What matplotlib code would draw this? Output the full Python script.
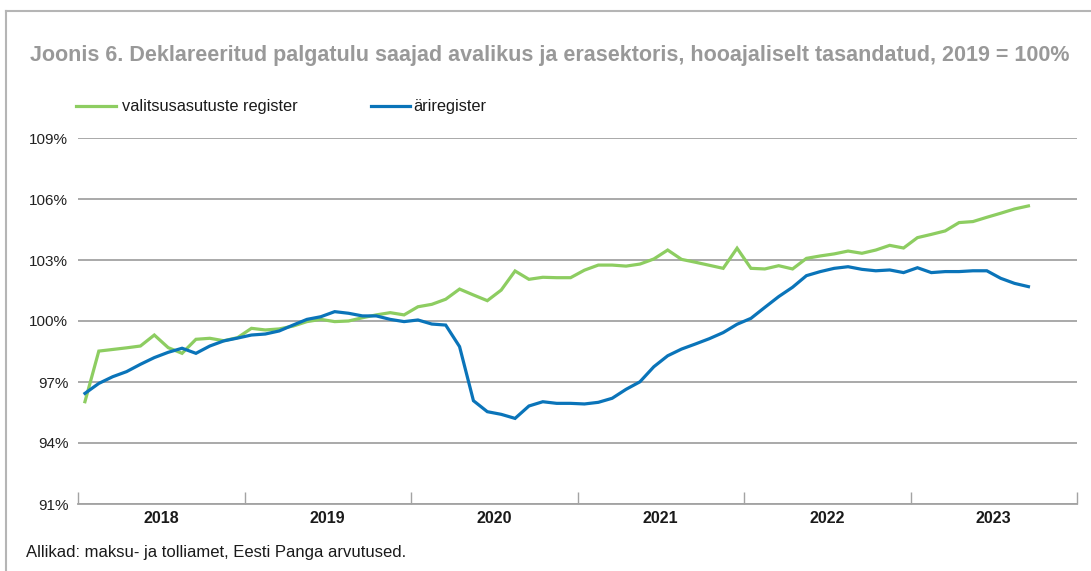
import matplotlib
matplotlib.use("Agg")
import matplotlib.pyplot as plt
from matplotlib.lines import Line2D

plt.rcParams['font.family'] = ['Liberation Sans', 'DejaVu Sans']

years = ["2018", "2019", "2020", "2021", "2022", "2023"]
y_ticks = [91, 94, 97, 100, 103, 106, 109]
y_labels = ["91%", "94%", "97%", "100%", "103%", "106%", "109%"]

# Monthly values, Jan 2018 .. Sep 2023
valitsus = [96.03, 98.52, 98.6, 98.68, 98.77, 99.31, 98.69, 98.41, 99.10, 99.15, 99.03, 99.18,
            99.64, 99.56, 99.61, 99.75, 99.97, 100.08, 99.97, 100.0, 100.16, 100.30, 100.41, 100.30,
            100.70, 100.82, 101.07, 101.57, 101.28, 101.00, 101.52, 102.46, 102.05, 102.15, 102.13, 102.13,
            102.50, 102.75, 102.75, 102.70, 102.80, 103.05, 103.49, 103.03, 102.89, 102.74, 102.59, 103.58,
            102.59, 102.56, 102.72, 102.56, 103.08, 103.20, 103.30, 103.44, 103.33, 103.49, 103.72, 103.59,
            104.10, 104.26, 104.43, 104.84, 104.89, 105.10, 105.30, 105.51, 105.66]
ari = [96.44, 96.93, 97.26, 97.51, 97.87, 98.20, 98.46, 98.66, 98.41, 98.77, 99.02, 99.16,
       99.31, 99.36, 99.51, 99.80, 100.08, 100.21, 100.46, 100.38, 100.25, 100.25, 100.08, 99.97,
       100.05, 99.85, 99.80, 98.74, 96.08, 95.54, 95.41, 95.21, 95.82, 96.03, 95.95, 95.95,
       95.92, 96.00, 96.20, 96.64, 97.01, 97.75, 98.29, 98.62, 98.87, 99.13, 99.43, 99.84,
       100.13, 100.67, 101.20, 101.66, 102.23, 102.43, 102.59, 102.67, 102.54, 102.47, 102.51, 102.38,
       102.62, 102.38, 102.43, 102.43, 102.47, 102.47, 102.10, 101.85, 101.69]

W, H = 1091, 571
fig = plt.figure(figsize=(W / 100, H / 100), dpi=100)
ax = fig.add_axes([78 / W, 1 - 504 / H, (1077 - 78) / W, (504 - 138) / H])

x = [i + 0.5 for i in range(len(valitsus))]
green = "#8dcd61"
blue = "#0a74b9"
ax.plot(x, valitsus, color=green, lw=2.3, solid_joinstyle='miter', zorder=3)
ax.plot(x, ari, color=blue, lw=2.3, solid_joinstyle='miter', zorder=4)

ax.set_xlim(0, 12 * len(years))
ax.set_ylim(91, 109)
ax.set_yticks(y_ticks)
ax.set_yticklabels(y_labels)
ax.yaxis.grid(True, color="#a3a3a3", lw=1.3)
ax.set_axisbelow(True)
for s in ["top", "right", "left"]:
    ax.spines[s].set_visible(False)
ax.spines["bottom"].set_color("#a3a3a3")
ax.spines["bottom"].set_linewidth(1.3)
ax.tick_params(axis="y", length=0, pad=7, labelsize=11, labelcolor="#222222")
ax.set_xticks([12 * i for i in range(len(years) + 1)])
ax.set_xticklabels([])
ax.tick_params(axis="x", direction="in", length=9, width=1, color="#a3a3a3")
ax.set_xticks([12 * i + 6 for i in range(len(years))], minor=True)
ax.set_xticklabels(years, minor=True, fontweight="bold", fontsize=11.5, color="#1a1a1a")
ax.tick_params(axis="x", which="minor", length=0, pad=5)

fig.text(30 / W, 1 - 55 / H, "Joonis 6. Deklareeritud palgatulu saajad avalikus ja erasektoris, hooajaliselt tasandatud, 2019 = 100%",
         fontsize=15.5, fontweight="bold", color="#999999", va="center", ha="left")

fig.add_artist(Line2D([76 / W, 116 / W], [1 - 106 / H] * 2, color=green, lw=2.3))
fig.text(122 / W, 1 - 106 / H, "valitsusasutuste register", fontsize=11.8, va="center", color="#1a1a1a")
fig.add_artist(Line2D([371 / W, 410 / W], [1 - 106 / H] * 2, color=blue, lw=2.3))
fig.text(413 / W, 1 - 106 / H, "äriregister", fontsize=11.8, va="center", color="#1a1a1a")

fig.text(26 / W, 1 - 552 / H, "Allikad: maksu- ja tolliamet, Eesti Panga arvutused.", fontsize=12, va="center", color="#1a1a1a")

fig.add_artist(Line2D([6 / W, 6 / W], [0, 1 - 11 / H], color="#b5b5b5", lw=1.5))
fig.add_artist(Line2D([6 / W, 1], [1 - 11 / H] * 2, color="#b5b5b5", lw=1.5))

fig.savefig("out.png", dpi=100)
